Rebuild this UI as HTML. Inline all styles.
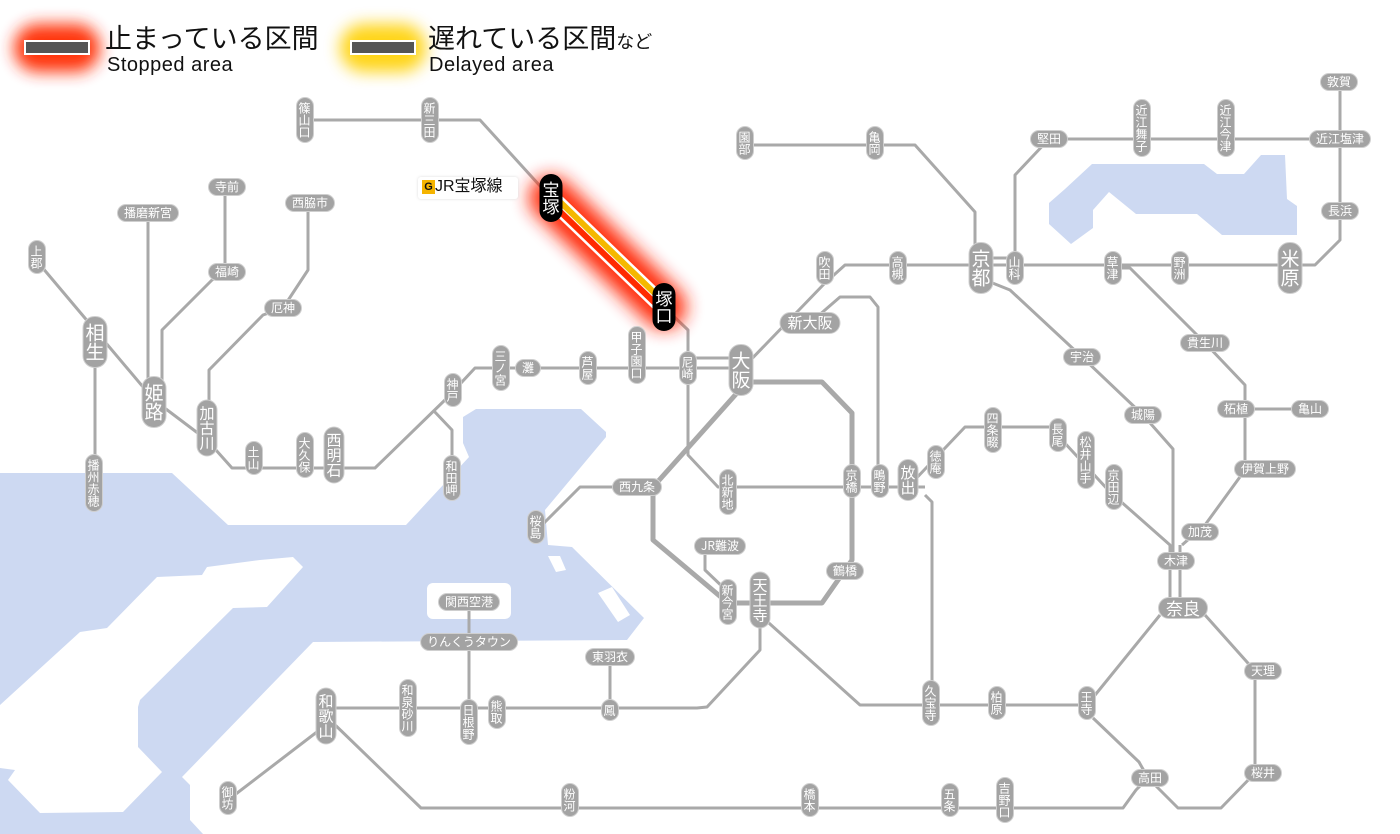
<!DOCTYPE html>
<html><head><meta charset="utf-8">
<style>
*{margin:0;padding:0;box-sizing:border-box}
body{width:1400px;height:834px;background:#fff;position:relative;overflow:hidden;font-family:"Liberation Sans","Noto Sans CJK JP",sans-serif}
svg{position:absolute;left:0;top:0}
.p{position:absolute;background:#a3a3a3;color:#fff;border:1px solid #cfcfcf;border-radius:10px;text-align:center;transform:translate(-50%,-50%);white-space:nowrap;font-family:"Noto Sans CJK JP",sans-serif}
.v{writing-mode:vertical-rl;font-size:12px;line-height:17px;width:18px;padding:4px 0}
.m{writing-mode:vertical-rl;font-size:15px;line-height:20px;width:21px;padding:5px 0;border-radius:11px}
.b{writing-mode:vertical-rl;font-size:19px;line-height:23px;width:25px;padding:6px 0;border-radius:12px}
.k{background:#000;border-color:#000;font-size:17px;line-height:22px;width:23px}
.h{font-size:12px;height:18px;line-height:16px;padding:0 6px}
.hb{font-size:15px;height:22px;line-height:20px;padding:0 7px;border-radius:11px}
.lg{position:absolute;color:#111;font-family:"Liberation Sans","Noto Sans CJK JP",sans-serif;white-space:nowrap}
</style></head><body>
<svg width="1400" height="834" viewBox="0 0 1400 834">
<defs>
<filter id="bl" x="-50%" y="-50%" width="200%" height="200%"><feGaussianBlur stdDeviation="9"/></filter>
<filter id="bl2" x="-80%" y="-80%" width="260%" height="260%"><feGaussianBlur stdDeviation="8"/></filter>
</defs>
<!-- sea -->
<polygon fill="#cdd9f2" points="0,473 172,473 228,525 406,525 469,457 463,443 463,417 476,409 581,409 606,432 606,437 545,510 548,545 572,547 644,618 627,640 313,642 182,777 190,785 190,820 203,834 0,834"/>
<polygon fill="#fff" points="207,567 260,560 293,557 303,567 267,607 233,608 140,700 138,707 138,747 162,772 123,812 40,813 8,780 15,770 0,768 0,705 80,632 107,628 157,577 202,575"/>
<rect x="427" y="583" width="84" height="36" rx="6" fill="#fff"/>
<polygon fill="#fff" points="548,556 560,556 566,570 556,572"/>
<polygon fill="#fff" points="598,593 612,587 630,615 618,622"/>
<polygon fill="#cdd9f2" points="1065,189 1092,164 1204,164 1217,174 1244,174 1261,155 1285,155 1287,199 1297,206 1297,235 1222,235 1197,214 1136,214 1109,192 1093,210 1093,228 1071,244 1049,224 1049,203"/>
<!-- lines -->
<g fill="none" stroke="#a9a9a9" stroke-width="3" stroke-linejoin="round">
<path d="M305 120 H480 L551 198"/>
<path d="M664 307 L688 330 V455 L718 487 H925"/>
<path d="M36 260 L95 330 L154 400 L207 440 L232 468 H375 L447 398 L475 368 H741"/>
<path d="M688 358 H741"/>
<path d="M741 370 L825 283 L845 265 H1315 L1340 240 V139"/>
<path d="M1340 139 V82"/>
<path d="M981 258 H1015"/>
<path d="M745 145 H915 L975 212 V250"/>
<path d="M1015 260 V175 L1049 139 H1340"/>
<path d="M637 487 H580 L540 527"/>
<path d="M810 323 L840 297 H870 L878 307 V480"/>
<path d="M908 487 L965 427 H1050 L1110 492 L1170 545 V600"/>
<path d="M1180 545 V600"/>
<path d="M925 495 L932 502 V703"/>
<path d="M760 615 L860 705 H1087 L1160 615"/>
<path d="M1205 615 L1255 671 V773 L1221 808 H1178 L1150 780"/>
<path d="M1093 718 L1139 762 L1148 778 L1136 790 L1123 808 H421 L330 720"/>
<path d="M330 708 H697 L707 707 L760 650 V620"/>
<path d="M469 602 V720"/>
<path d="M610 657 V710"/>
<path d="M326 725 L228 800"/>
<path d="M985 280 L1010 290 L1082 357 L1143 415 L1173 449 V560"/>
<path d="M1120 268 H1130 L1205 343 L1245 385 V409 H1310"/>
<path d="M1245 409 V470 L1205 525 L1182 545"/>
<path d="M95 340 V482"/>
<path d="M148 213 V400"/>
<path d="M162 395 V330 L212 280 L225 272 V187"/>
<path d="M209 430 V370 L263 315 L283 308 L308 270 V204"/>
<path d="M433 410 L452 430 V478"/>
<path d="M705 546 V570 L728 592"/>
</g>
<path d="M741 382 H822 L852 413 V560 L822 603 H728 L653 540 V487 L737 393" fill="none" stroke="#a9a9a9" stroke-width="5" stroke-linejoin="round"/>
<!-- legend glows -->
<rect x="14" y="24" width="86" height="48" rx="24" fill="#ff2a00" filter="url(#bl2)" opacity=".95"/>
<rect x="340" y="24" width="86" height="48" rx="24" fill="#ffd000" filter="url(#bl2)" opacity=".9"/>
<rect x="24" y="40" width="66" height="15" fill="#fff"/>
<rect x="26" y="42" width="62" height="11" fill="#555"/>
<rect x="350" y="40" width="66" height="15" fill="#fff"/>
<rect x="352" y="42" width="62" height="11" fill="#555"/>
<!-- highlighted segment -->
<line x1="551" y1="198" x2="664" y2="307" stroke="#ff2000" stroke-width="44" stroke-linecap="round" filter="url(#bl)" opacity=".95"/>
<line x1="551" y1="198" x2="664" y2="307" stroke="#fff" stroke-width="18"/>
<line x1="548.6" y1="200.5" x2="661.6" y2="309.5" stroke="#ff2a00" stroke-width="6"/>
<line x1="553.4" y1="195.5" x2="666.4" y2="304.5" stroke="#f5b800" stroke-width="6"/>
</svg>
<!-- legend texts -->
<div class="lg" style="left:105px;top:22px;font-size:27px;line-height:34px">止まっている区間</div>
<div class="lg" style="left:107px;top:54px;font-size:20px;line-height:22px;letter-spacing:.5px">Stopped area</div>
<div class="lg" style="left:428px;top:22px;font-size:27px;line-height:34px">遅れている区間<span style="font-size:18px">など</span></div>
<div class="lg" style="left:429px;top:54px;font-size:20px;line-height:22px;letter-spacing:.5px">Delayed area</div>
<div class="lg" style="left:418px;top:177px;width:100px;height:22px;background:#fff;border-radius:3px;font-size:16px;line-height:20px;padding-left:4px;box-shadow:0 0 3px #ddd"><span style="display:inline-block;background:#f5b400;width:13px;height:14px;font-size:11px;line-height:14px;text-align:center;font-weight:bold;vertical-align:1px">G</span>JR宝塚線</div>
<!-- vertical small -->
<div class="p v" style="left:305px;top:120px">篠山口</div>
<div class="p v" style="left:430px;top:120px">新三田</div>
<div class="p v" style="left:745px;top:143px">園部</div>
<div class="p v" style="left:875px;top:143px">亀岡</div>
<div class="p v" style="left:37px;top:257px">上郡</div>
<div class="p v" style="left:825px;top:268px">吹田</div>
<div class="p v" style="left:898px;top:268px">高槻</div>
<div class="p v" style="left:1015px;top:268px">山科</div>
<div class="p v" style="left:1113px;top:268px">草津</div>
<div class="p v" style="left:1180px;top:268px">野洲</div>
<div class="p v" style="left:1142px;top:128px">近江舞子</div>
<div class="p v" style="left:1226px;top:128px">近江今津</div>
<div class="p v" style="left:637px;top:355px">甲子園口</div>
<div class="p v" style="left:688px;top:368px">尼崎</div>
<div class="p v" style="left:588px;top:368px">芦屋</div>
<div class="p v" style="left:501px;top:368px">三ノ宮</div>
<div class="p v" style="left:453px;top:390px">神戸</div>
<div class="p v" style="left:254px;top:458px">土山</div>
<div class="p v" style="left:305px;top:455px">大久保</div>
<div class="p v" style="left:452px;top:478px">和田岬</div>
<div class="p v" style="left:536px;top:527px">桜島</div>
<div class="p v" style="left:728px;top:492px">北新地</div>
<div class="p v" style="left:852px;top:481px">京橋</div>
<div class="p v" style="left:880px;top:481px">鴫野</div>
<div class="p v" style="left:936px;top:462px">徳庵</div>
<div class="p v" style="left:993px;top:430px">四条畷</div>
<div class="p v" style="left:1058px;top:435px">長尾</div>
<div class="p v" style="left:1086px;top:460px">松井山手</div>
<div class="p v" style="left:1114px;top:487px">京田辺</div>
<div class="p v" style="left:728px;top:602px">新今宮</div>
<div class="p v" style="left:931px;top:703px">久宝寺</div>
<div class="p v" style="left:997px;top:703px">柏原</div>
<div class="p v" style="left:1087px;top:703px">王寺</div>
<div class="p v" style="left:408px;top:708px">和泉砂川</div>
<div class="p v" style="left:469px;top:722px">日根野</div>
<div class="p v" style="left:497px;top:712px">熊取</div>
<div class="p v" style="left:610px;top:710px">鳳</div>
<div class="p v" style="left:228px;top:798px">御坊</div>
<div class="p v" style="left:570px;top:800px">粉河</div>
<div class="p v" style="left:810px;top:800px">橋本</div>
<div class="p v" style="left:950px;top:800px">五条</div>
<div class="p v" style="left:1005px;top:800px">吉野口</div>
<div class="p v" style="left:94px;top:483px">播州赤穂</div>
<!-- medium vertical -->
<div class="p m" style="left:207px;top:428px">加古川</div>
<div class="p m" style="left:334px;top:455px">西明石</div>
<div class="p m" style="left:908px;top:480px">放出</div>
<div class="p m" style="left:760px;top:600px">天王寺</div>
<div class="p m" style="left:326px;top:716px">和歌山</div>
<!-- big vertical -->
<div class="p b" style="left:95px;top:342px">相生</div>
<div class="p b" style="left:154px;top:402px">姫路</div>
<div class="p b" style="left:741px;top:370px">大阪</div>
<div class="p b" style="left:981px;top:268px">京都</div>
<div class="p b" style="left:1290px;top:268px">米原</div>
<div class="p b k" style="left:551px;top:198px">宝塚</div>
<div class="p b k" style="left:664px;top:307px">塚口</div>
<!-- horizontal -->
<div class="p h" style="left:528px;top:368px">灘</div>
<div class="p h" style="left:227px;top:187px">寺前</div>
<div class="p h" style="left:148px;top:213px">播磨新宮</div>
<div class="p h" style="left:310px;top:203px">西脇市</div>
<div class="p h" style="left:227px;top:272px">福崎</div>
<div class="p h" style="left:283px;top:308px">厄神</div>
<div class="p h" style="left:637px;top:487px">西九条</div>
<div class="p h" style="left:720px;top:546px">JR難波</div>
<div class="p h" style="left:845px;top:571px">鶴橋</div>
<div class="p h" style="left:469px;top:602px">関西空港</div>
<div class="p h" style="left:469px;top:642px">りんくうタウン</div>
<div class="p h" style="left:610px;top:657px">東羽衣</div>
<div class="p h" style="left:1176px;top:561px">木津</div>
<div class="p h" style="left:1200px;top:532px">加茂</div>
<div class="p h" style="left:1265px;top:469px">伊賀上野</div>
<div class="p h" style="left:1236px;top:409px">柘植</div>
<div class="p h" style="left:1310px;top:409px">亀山</div>
<div class="p h" style="left:1143px;top:415px">城陽</div>
<div class="p h" style="left:1082px;top:357px">宇治</div>
<div class="p h" style="left:1205px;top:343px">貴生川</div>
<div class="p h" style="left:1340px;top:211px">長浜</div>
<div class="p h" style="left:1340px;top:139px">近江塩津</div>
<div class="p h" style="left:1339px;top:82px">敦賀</div>
<div class="p h" style="left:1049px;top:139px">堅田</div>
<div class="p h" style="left:1263px;top:671px">天理</div>
<div class="p h" style="left:1263px;top:773px">桜井</div>
<div class="p h" style="left:1150px;top:778px">高田</div>
<div class="p hb" style="left:810px;top:323px">新大阪</div>
<div class="p hb" style="left:1183px;top:608px;font-size:17px">奈良</div>
</body></html>
